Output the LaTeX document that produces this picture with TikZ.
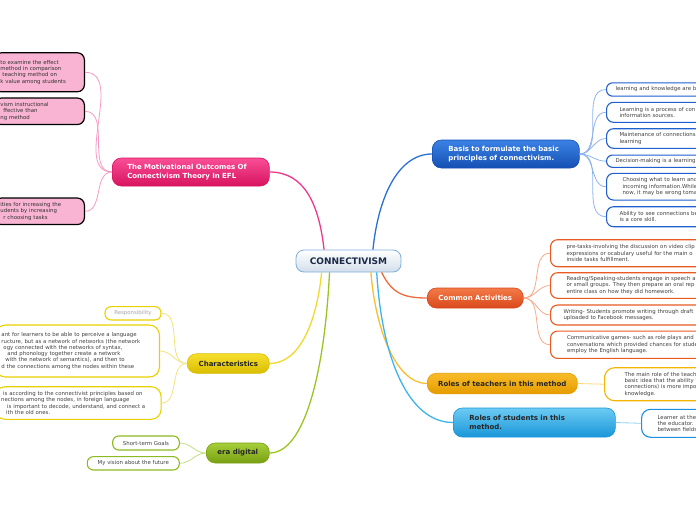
\documentclass[tikz,border=0pt]{standalone}
\usepackage{fontspec}
\setmainfont{DejaVu Sans}
\definecolor{ctrBorder}{HTML}{7EAEDD}
\definecolor{ctrBot}{HTML}{D3DEEA}
\definecolor{ctrText}{HTML}{1B2A48}
\definecolor{subText}{HTML}{424242}
\definecolor{pinkLine}{HTML}{F0388A}
\definecolor{pinkTop}{HTML}{F84E96}
\definecolor{pinkBot}{HTML}{D8135F}
\definecolor{pinkSub}{HTML}{F8B4D2}
\definecolor{pinkThin}{HTML}{F59AC4}
\definecolor{blueLine}{HTML}{2A6FD6}
\definecolor{blueTop}{HTML}{3B82E4}
\definecolor{blueBot}{HTML}{1550B4}
\definecolor{blueSub}{HTML}{1F5FD0}
\definecolor{blueThin}{HTML}{8FB4EC}
\definecolor{oraLine}{HTML}{F26A3C}
\definecolor{oraTop}{HTML}{F37A48}
\definecolor{oraBot}{HTML}{D9481A}
\definecolor{oraSub}{HTML}{E85A22}
\definecolor{oraThin}{HTML}{F7A98A}
\definecolor{ambLine}{HTML}{F7BE30}
\definecolor{ambTop}{HTML}{F8BC2A}
\definecolor{ambBot}{HTML}{E59C00}
\definecolor{ambSub}{HTML}{F5B400}
\definecolor{ambThin}{HTML}{F9D77A}
\definecolor{cyaLine}{HTML}{3CB4EE}
\definecolor{cyaTop}{HTML}{6CCBF4}
\definecolor{cyaBot}{HTML}{1996D8}
\definecolor{cyaSub}{HTML}{1B8FE0}
\definecolor{cyaThin}{HTML}{8ED0F4}
\definecolor{yelLine}{HTML}{F2D82A}
\definecolor{yelTop}{HTML}{F6DF2E}
\definecolor{yelBot}{HTML}{D9BD00}
\definecolor{yelSub}{HTML}{E9D100}
\definecolor{yelThin}{HTML}{F1E37A}
\definecolor{greLine}{HTML}{9AC424}
\definecolor{greTop}{HTML}{A6CF3A}
\definecolor{greBot}{HTML}{789F12}
\definecolor{greSub}{HTML}{8DBA20}
\definecolor{greThin}{HTML}{C2DD86}
\begin{document}
\begin{tikzpicture}[x=1pt,y=-1pt,
  ctrN/.style={draw=ctrBorder, line width=0.8pt, top color=white, bottom color=ctrBot,
    rounded corners=8pt, minimum width=105pt, minimum height=22pt, inner sep=0pt,
    font=\fontsize{9}{10}\selectfont\bfseries, text=ctrText},
  mainN/.style={rounded corners=9pt, line width=0.6pt, inner ysep=0pt,
    font=\fontsize{7}{8.3}\selectfont\bfseries, align=left},
  subN/.style={draw, line width=1.1pt, fill=white, rounded corners=7pt, inner ysep=0pt,
    font=\fontsize{5.4}{6.3}\selectfont, text=subText, align=left},
  subR/.style={subN, anchor=west, text width=170pt},
  subL/.style={subN, anchor=east, inner xsep=6pt},
  smallN/.style={subN, rounded corners=6pt, align=center, inner sep=0pt},
  pinkS/.style={subL, draw=black, line width=1.2pt, fill=pinkSub, text=black!80},
  branch/.style={line width=1.3pt},
  thin/.style={line width=0.8pt},
]
\useasboundingbox (0,0) rectangle (696,520);
\clip (0,0) rectangle (696,520);

% centre
\node[ctrN] (ctr) at (348.5,261) {CONNECTIVISM};

% main nodes
\node[mainN, anchor=west, top color=pinkTop, bottom color=pinkBot, draw=pinkBot, text=white,
  text width=127pt, inner xsep=15pt, minimum height=28pt] (mot) at (112,172)
  {The Motivational Outcomes Of\\Connectivism Theory In EFL};
\node[mainN, anchor=west, top color=blueTop, bottom color=blueBot, draw=blueBot, text=white,
  text width=115pt, inner xsep=16pt, minimum height=28pt] (bas) at (432,154)
  {Basis to formulate the basic\\principles of connectivism.};
\node[mainN, anchor=west, top color=oraTop, bottom color=oraBot, draw=oraBot, text=white,
  align=center, minimum width=96pt, minimum height=20pt] (com) at (427,298) {Common Activities};
\node[mainN, anchor=west, top color=ambTop, bottom color=ambBot, draw=ambBot, text=black!85,
  align=center, minimum width=150pt, minimum height=20.5pt] (tea) at (427,383.5)
  {Roles of teachers in this method};
\node[mainN, anchor=west, top color=cyaTop, bottom color=cyaBot, draw=cyaBot, text=black!85,
  text width=130pt, inner xsep=16pt, minimum height=29pt] (stu) at (453,422.5)
  {Roles of students in this\\method.};
\node[mainN, anchor=west, top color=yelTop, bottom color=yelBot, draw=yelBot, text=black!85,
  align=center, minimum width=82pt, minimum height=19.5pt] (cha) at (187,363.5) {Characteristics};
\node[mainN, anchor=west, top color=greTop, bottom color=greBot, draw=greBot, text=black!85,
  align=center, minimum width=63pt, minimum height=20pt] (era) at (206,453) {era digital};

% pink children
\node[pinkS, text width=78pt, minimum height=39pt] (p1) at (85,72.3)
  {to examine the effect\\method in comparison\\\hspace*{2pt}teaching method on\\k value among students};
\node[pinkS, text width=78pt, minimum height=26.5pt] (p2) at (85,111.3)
  {vism instructional\\\hspace*{3pt}ffective than\\ng method};
\node[pinkS, text width=78pt, minimum height=26.5pt] (p3) at (85,211.3)
  {ities for increasing the\\udents by increasing\\\hspace*{3pt}r choosing tasks};

% blue children
\node[subR, draw=blueSub, rounded corners=6pt, inner xsep=9pt, minimum height=13.3pt] (b1) at (606,89.5)
  {learning and knowledge are b};
\node[subR, draw=blueSub, inner xsep=13pt, minimum height=20pt] (b2) at (606,112.3)
  {Learning is a process of con\\information sources.};
\node[subR, draw=blueSub, inner xsep=13pt, minimum height=19.6pt] (b3) at (606,138.5)
  {Maintenance of connections\\learning};
\node[subR, draw=blueSub, rounded corners=6pt, inner xsep=9pt, minimum height=12.3pt] (b4) at (606,161.2)
  {Decision-making is a learning};
\node[subR, draw=blueSub, inner xsep=16pt, minimum height=26.7pt] (b5) at (606,186.7)
  {Choosing what to learn and\\incoming information.While\\now, it may be wrong toma};
\node[subR, draw=blueSub, inner xsep=13pt, minimum height=20pt] (b6) at (606,216.7)
  {Ability to see connections be\\is a core skill.};

% orange children
\node[subR, draw=oraSub, inner xsep=16pt, minimum height=27pt] (o1) at (550,253.2)
  {pre-tasks-involving the discussion on video clip\\expressions or ocabulary useful for the main o\\inside tasks fulfillment.};
\node[subR, draw=oraSub, inner xsep=16pt, minimum height=25.6pt] (o2) at (550,285.5)
  {Reading/Speaking-students engage in speech a\\or small groups. They then prepare an oral rep\\entire class on how they did homework.};
\node[subR, draw=oraSub, inner xsep=13pt, minimum height=20pt] (o3) at (550,315)
  {Writing- Students promote writing through draft\\uploaded to Facebook messages.};
\node[subR, draw=oraSub, inner xsep=16.5pt, minimum height=27.3pt] (o4) at (550,344.7)
  {Communicative games- such as role plays and\\conversations which provided chances for stude\\employ the English language.};

% teacher / student children
\node[subR, draw=ambSub, rounded corners=10pt, inner xsep=20pt, minimum height=33pt] (t1) at (604,384.2)
  {The main role of the teach\\basic idea that the ability t\\connections) is more impo\\knowledge.};
\node[subR, draw=cyaSub, rounded corners=9pt, inner xsep=16pt, minimum height=28pt] (s1) at (641,423.3)
  {Learner at the\\the educator. I\\between fields};

% yellow children
\node[smallN, draw=yelSub, text=black!35, minimum width=56pt, minimum height=13.3pt] (y1) at (133,313.3)
  {Responsibility};
\node[subL, draw=yelSub, rounded corners=10pt, text width=152pt, minimum height=52pt] (y2) at (160,351)
  {ant for learners to be able to perceive a language\\ructure, but as a network of networks (the network\\\hspace*{2pt}ogy connected with the networks of syntax,\\\hspace*{6pt}and phonology together create a network\\\hspace*{4pt}with the network of semantics), and then to\\d the connections among the nodes within these};
\node[subL, draw=yelSub, rounded corners=10pt, text width=154pt, minimum height=32.6pt] (y3) at (161.7,403)
  {\hspace*{2pt}is according to the connectivist principles based on\\nections among the nodes, in foreign language\\\hspace*{6pt}is important to decode, understand, and connect a\\\hspace*{5pt}ith the old ones.};

% green children
\node[smallN, draw=greSub, minimum width=66.6pt, minimum height=14pt] (g1) at (146,443)
  {Short-term Goals};
\node[smallN, draw=greSub, minimum width=92pt, minimum height=13.3pt] (g2) at (133.3,463.3)
  {My vision about the future};

% main branches
\draw[branch, pinkLine] (ctr.155) .. controls +(-5,-45) and +(35,0) .. (mot.east);
\draw[branch, blueLine] (ctr.25) .. controls +(5,-50) and +(-35,0) .. (bas.west);
\draw[branch, oraLine] (ctr.-19) .. controls +(10,20) and +(-25,0) .. (com.west);
\draw[branch, ambLine] (ctr.-27) .. controls +(5,60) and +(-30,0) .. (tea.west);
\draw[branch, cyaLine] (ctr.-22.5) .. controls +(5,85) and +(-45,0) .. (stu.west);
\draw[branch, yelLine] (ctr.-157) .. controls +(-5,50) and +(30,0) .. (cha.east);
\draw[branch, greLine] (ctr.-149) .. controls +(-5,100) and +(35,0) .. (era.east);

% thin connectors
\foreach \c in {p1,p2,p3} \draw[thin, pinkThin] (mot.west) to[out=180,in=0] (\c.east);
\foreach \c in {b1,b2,b3,b4,b5,b6} \draw[thin, blueThin] (bas.east) to[out=0,in=180] (\c.west);
\foreach \c in {o1,o2,o3,o4} \draw[thin, oraThin] (com.east) to[out=0,in=180] (\c.west);
\draw[thin, ambThin] (tea.east) -- (t1.west);
\draw[thin, cyaThin] (stu.east) -- (s1.west);
\foreach \c in {y1,y2,y3} \draw[thin, yelThin] (cha.west) to[out=180,in=0] (\c.east);
\foreach \c in {g1,g2} \draw[thin, greThin] (era.west) to[out=180,in=0] (\c.east);
\end{tikzpicture}
\end{document}
